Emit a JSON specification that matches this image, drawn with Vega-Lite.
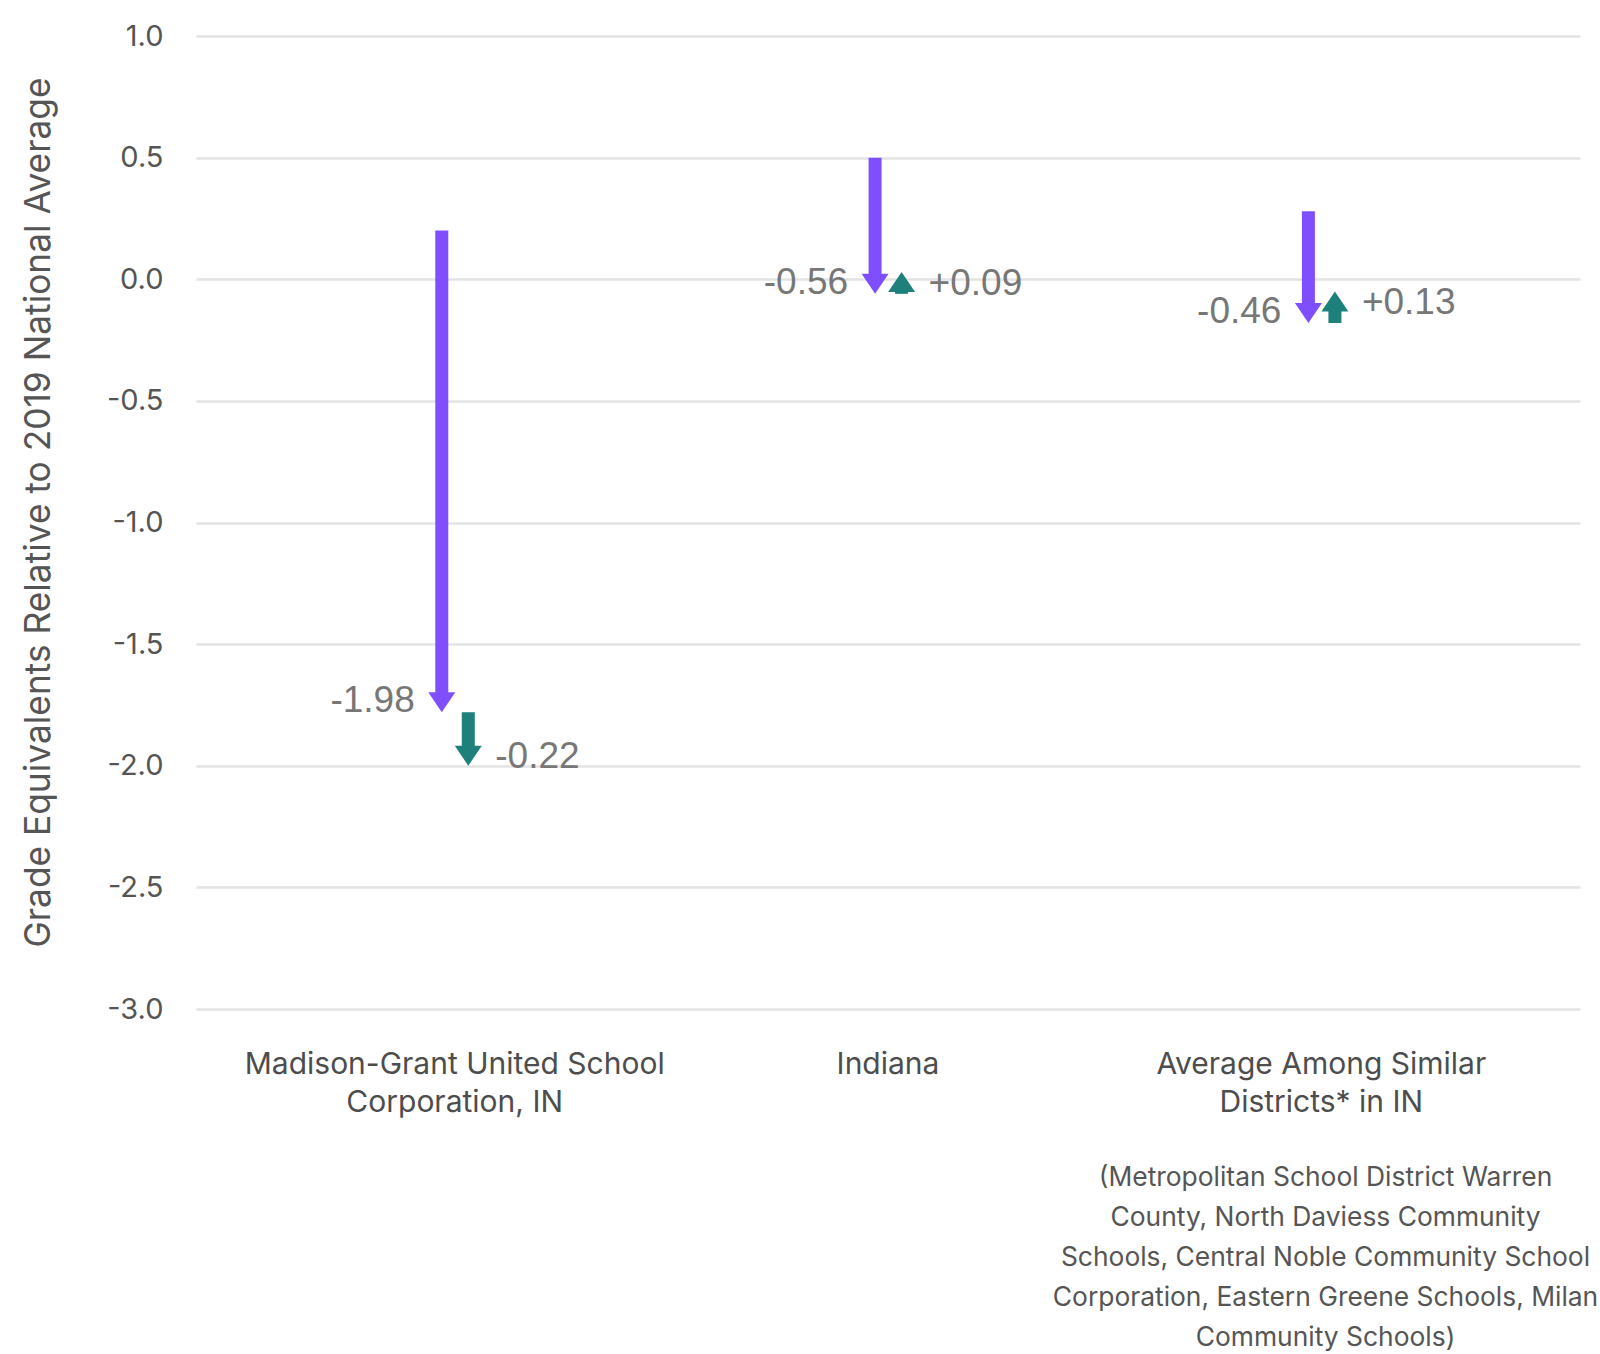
{
  "$schema": "https://vega.github.io/schema/vega-lite/v6.json",
  "width": 1384,
  "height": 973,
  "autosize": {"type": "none"},
  "padding": {"left": 196, "top": 36, "right": 20, "bottom": 345},
  "background": "white",
  "config": {"view": {"stroke": null}, "font": "Inter"},
  "data": {
    "values": [
      {"category": "Madison-Grant United School Corporation, IN", "series": "2019 to 2022", "start": 0.20, "end": -1.78, "label": "-1.98", "direction": "down"},
      {"category": "Madison-Grant United School Corporation, IN", "series": "2022 to 2023", "start": -1.78, "end": -2.00, "label": "-0.22", "direction": "down"},
      {"category": "Indiana", "series": "2019 to 2022", "start": 0.50, "end": -0.06, "label": "-0.56", "direction": "down"},
      {"category": "Indiana", "series": "2022 to 2023", "start": -0.06, "end": 0.03, "label": "+0.09", "direction": "up"},
      {"category": "Average Among Similar Districts* in IN", "series": "2019 to 2022", "start": 0.28, "end": -0.18, "label": "-0.46", "direction": "down"},
      {"category": "Average Among Similar Districts* in IN", "series": "2022 to 2023", "start": -0.18, "end": -0.05, "label": "+0.13", "direction": "up"}
    ]
  },
  "encoding": {
    "x": {
      "field": "category",
      "type": "nominal",
      "sort": ["Madison-Grant United School Corporation, IN", "Indiana", "Average Among Similar Districts* in IN"],
      "scale": {"paddingInner": 0, "paddingOuter": 0.097},
      "axis": {
        "title": ["(Metropolitan School District Warren", "County, North Daviess Community", "Schools, Central Noble Community School", "Corporation, Eastern Greene Schools, Milan", "Community Schools)"],
        "titleFontSize": 26.4,
        "titleFontWeight": "normal",
        "titleColor": "#555555",
        "titleLineHeight": 40,
        "titleX": 1129,
        "titleY": 176,
        "titleAlign": "center",
        "titleBaseline": "alphabetic",
        "titleLimit": 0,
        "labelAngle": 0,
        "labelFontSize": 30,
        "labelColor": "#4d4d4d",
        "labelLineHeight": 38,
        "labelPadding": 40,
        "labelLimit": 0,
        "labelOverlap": false,
        "labelExpr": "datum.value == 'Madison-Grant United School Corporation, IN' ? ['Madison-Grant United School', 'Corporation, IN'] : datum.value == 'Average Among Similar Districts* in IN' ? ['Average Among Similar', 'Districts* in IN'] : datum.value",
        "domain": false,
        "ticks": false,
        "grid": false
      }
    },
    "xOffset": {
      "field": "series",
      "type": "nominal",
      "scale": {"domain": ["2019 to 2022", "2022 to 2023"], "range": [190.5, 243.5], "paddingInner": 0, "paddingOuter": 0}
    },
    "y": {
      "field": "end",
      "type": "quantitative",
      "scale": {"domain": [-3, 1], "nice": false, "zero": false},
      "axis": {
        "title": "Grade Equivalents Relative to 2019 National Average",
        "values": [-3, -2.5, -2, -1.5, -1, -0.5, 0, 0.5, 1],
        "labelExpr": "replace(format(datum.value, '.1f'), '\u2212', '-')",
        "domain": false,
        "ticks": false,
        "labelPadding": 33,
        "labelFontSize": 29,
        "labelColor": "#555555",
        "labelBaseline": "middle",
        "gridColor": "#e3e3e3",
        "gridWidth": 2.5,
        "titleFontSize": 35.3,
        "titleFontWeight": "normal",
        "titleColor": "#555555",
        "titleLimit": 0,
        "titleX": -158,
        "titleY": 476,
        "titleAngle": -90,
        "titleAlign": "center",
        "titleBaseline": "middle"
      }
    },
    "color": {
      "field": "series",
      "type": "nominal",
      "scale": {"domain": ["2019 to 2022", "2022 to 2023"], "range": ["#7f4fff", "#1d807b"]},
      "legend": null
    }
  },
  "layer": [
    {
      "transform": [{"filter": "datum.direction == 'down'"}],
      "mark": {"type": "rule", "strokeWidth": 13, "strokeCap": "butt", "y2Offset": -18},
      "encoding": {"y": {"field": "start", "type": "quantitative"}, "y2": {"field": "end"}}
    },
    {
      "transform": [{"filter": "datum.direction == 'up'"}],
      "mark": {"type": "rule", "strokeWidth": 13, "strokeCap": "butt", "y2Offset": 18},
      "encoding": {"y": {"field": "start", "type": "quantitative"}, "y2": {"field": "end"}}
    },
    {
      "transform": [{"filter": "datum.direction == 'down'"}],
      "mark": {"type": "point", "shape": "M-1,-1.48L1,-1.48L0,0Z", "size": 729, "filled": true, "opacity": 1, "strokeWidth": 0}
    },
    {
      "transform": [{"filter": "datum.direction == 'up'"}],
      "mark": {"type": "point", "shape": "M-1,1.48L1,1.48L0,0Z", "size": 729, "filled": true, "opacity": 1, "strokeWidth": 0}
    },
    {
      "transform": [{"filter": "datum.series == '2019 to 2022'"}],
      "mark": {"type": "text", "align": "right", "baseline": "middle", "dx": -27, "dy": -11, "fontSize": 37, "font": "Liberation Sans"},
      "encoding": {"text": {"field": "label"}, "color": {"value": "#777777"}}
    },
    {
      "transform": [{"filter": "datum.series == '2022 to 2023' && datum.direction == 'down'"}],
      "mark": {"type": "text", "align": "left", "baseline": "middle", "dx": 27, "dy": -9, "fontSize": 37, "font": "Liberation Sans"},
      "encoding": {"text": {"field": "label"}, "color": {"value": "#777777"}}
    },
    {
      "transform": [{"filter": "datum.series == '2022 to 2023' && datum.direction == 'up'"}],
      "mark": {"type": "text", "align": "left", "baseline": "middle", "dx": 27, "dy": 12, "fontSize": 37, "font": "Liberation Sans"},
      "encoding": {"text": {"field": "label"}, "color": {"value": "#777777"}}
    }
  ]
}
